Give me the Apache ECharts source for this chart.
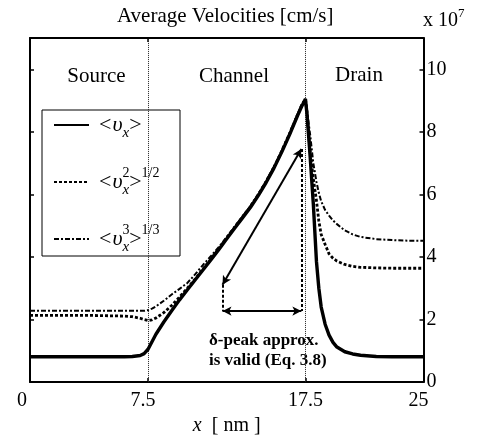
<!DOCTYPE html>
<html><head><meta charset="utf-8">
<script src="https://cdn.jsdelivr.net/npm/echarts@6/dist/echarts.min.js"></script>
<style>html,body{margin:0;padding:0;background:#fff}#c{width:478px;height:441px}</style>
</head><body><div id="c"></div>
<script>
// position along device [nm]
const xPos = [0, 1, 2, 3, 4, 5, 6, 6.5, 7, 7.25, 7.5, 7.75, 8, 8.5, 9, 9.5, 10, 10.5, 11, 11.5, 12, 12.5, 13, 13.5, 14, 14.5, 15, 15.5, 16, 16.5, 17, 17.25, 17.5, 17.6, 17.8, 18, 18.2, 18.35, 18.5, 18.75, 19, 19.25, 19.5, 20, 20.5, 21, 22, 23, 24, 25];
// <v_x>  [1e7 cm/s]
const vAvg = [0.81, 0.81, 0.81, 0.81, 0.81, 0.81, 0.81, 0.82, 0.85, 0.91, 1.05, 1.29, 1.53, 1.92, 2.28, 2.63, 2.95, 3.27, 3.59, 3.91, 4.24, 4.58, 4.92, 5.25, 5.58, 5.96, 6.38, 6.84, 7.36, 7.92, 8.52, 8.8, 9.05, 8.55, 7.2, 5.7, 3.85, 3.0, 2.4, 1.85, 1.5, 1.27, 1.12, 0.97, 0.9, 0.86, 0.82, 0.81, 0.81, 0.81];
// <v_x^2>^(1/2)
const vRms2 = [2.13, 2.13, 2.13, 2.13, 2.13, 2.12, 2.11, 2.09, 2.04, 2.0, 1.97, 1.99, 2.05, 2.22, 2.45, 2.72, 3.0, 3.3, 3.62, 3.94, 4.27, 4.61, 4.95, 5.28, 5.61, 5.99, 6.41, 6.87, 7.39, 7.95, 8.55, 8.84, 9.05, 8.6, 7.35, 6.5, 5.8, 5.15, 4.72, 4.4, 4.1, 3.96, 3.87, 3.76, 3.7, 3.67, 3.65, 3.64, 3.64, 3.64];
// <v_x^3>^(1/3)
const vRms3 = [2.28, 2.28, 2.28, 2.28, 2.28, 2.28, 2.28, 2.28, 2.28, 2.28, 2.3, 2.35, 2.42, 2.6, 2.8, 2.98, 3.17, 3.45, 3.75, 4.03, 4.32, 4.64, 4.97, 5.3, 5.63, 6.01, 6.43, 6.89, 7.41, 7.97, 8.57, 8.86, 9.05, 8.7, 7.9, 7.0, 6.4, 6.05, 5.78, 5.5, 5.32, 5.17, 5.05, 4.85, 4.72, 4.64, 4.57, 4.54, 4.52, 4.52];

const xTickValues = [0, 7.5, 17.5, 25];
const yTickValues = [0, 2, 4, 6, 8, 10];
const regionBounds = [7.5, 17.5];
const regionNames = ['Source', 'Channel', 'Drain'];
const seriesNames = ['vAvg', 'vRms2', 'vRms3'];
// annotation "delta-peak approx. is valid"
const arrowDiag = [[12.23, 3.11], [17.24, 7.45]];
const arrowSpan = [[12.23, 2.27], [17.24, 2.27]];
const dropLeft = [[12.23, 3.11], [12.23, 2.27]];
const dropRight = [[17.24, 7.45], [17.24, 2.27]];
const annoText = ['δ-peak approx.', 'is valid (Eq. 3.8)'];

const FF = '"Liberation Serif", "DejaVu Serif", serif';
const pair = (arr) => xPos.map((x, i) => [x, arr[i]]);

const chart = echarts.init(document.getElementById('c'), null, {renderer: 'canvas'});

const legendLabels = {
  vAvg: '{b0|<}{u|υ}{sub|x}{b|>}',
  vRms2: '{b0|<}{u|υ}{sup|2}{subn|x}{b|>}{sup|1/2}',
  vRms3: '{b0|<}{u|υ}{sup|3}{subn|x}{b|>}{sup|1/3}'
};

const xLabelRich = {
  l: {fontSize: 20, fontFamily: FF, color: '#000', padding: [0, 16, 0, 0]},
  m: {fontSize: 20, fontFamily: FF, color: '#000', padding: [0, 10, 0, 0]},
  c: {fontSize: 20, fontFamily: FF, color: '#000'}
};

const axisCommon = {
  axisLine: {show: true, onZero: false, lineStyle: {color: '#000', width: 2}},
  splitLine: {show: false}
};

chart.setOption({
  animation: false,
  backgroundColor: '#fff',
  title: {
    text: 'Average Velocities [cm/s]',
    left: 112, top: 1,
    textStyle: {fontFamily: FF, fontSize: 21, fontWeight: 'normal', color: '#000'}
  },
  grid: {left: 30, top: 38, right: 54.5, bottom: 52, containLabel: false},
  legend: {
    data: seriesNames,
    orient: 'vertical',
    left: 48, top: 109,
    itemWidth: 35, itemHeight: 14, itemGap: 25,
    formatter: (n) => legendLabels[n],
    itemStyle: {opacity: 0},
    textStyle: {
      color: '#000', fontFamily: FF,
      rich: {
        b0: {fontSize: 22, fontFamily: FF, color: '#000', lineHeight: 32, padding: [0, 1, 0, 5]},
        b: {fontSize: 22, fontFamily: FF, color: '#000', lineHeight: 32},
        u: {fontSize: 22, fontFamily: FF, fontStyle: 'italic', color: '#000', lineHeight: 32},
        sup: {fontSize: 14, fontFamily: FF, color: '#000', lineHeight: 14, verticalAlign: 'top'},
        sub: {fontSize: 15, fontFamily: FF, fontStyle: 'italic', color: '#000', lineHeight: 14, verticalAlign: 'bottom'},
        subn: {fontSize: 15, fontFamily: FF, fontStyle: 'italic', color: '#000', lineHeight: 14, verticalAlign: 'bottom', padding: [0, 0, 0, -7]}
      }
    }
  },
  xAxis: [Object.assign({}, axisCommon, {
    type: 'value', min: 0, max: 25, position: 'bottom',
    name: '{i|x}{n|  [ nm ]}', nameLocation: 'middle', nameGap: 24,
    nameTextStyle: {rich: {
      i: {fontSize: 20, fontFamily: FF, fontStyle: 'italic', color: '#000'},
      n: {fontSize: 20, fontFamily: FF, color: '#000'}
    }},
    axisTick: {show: true, inside: true, length: 4, customValues: xTickValues, lineStyle: {color: '#000', width: 1.5}},
    axisLabel: {
      show: true, margin: 9, customValues: xTickValues,
      formatter: (v) => v === 0 ? '{l|0}' : (v === 17.5 ? '{c|17.5}' : '{m|' + v + '}'),
      rich: xLabelRich
    }
  }), Object.assign({}, axisCommon, {
    type: 'value', min: 0, max: 25, position: 'top',
    axisTick: {show: true, inside: true, length: 4, customValues: regionBounds, lineStyle: {color: '#000', width: 1.5}},
    axisLabel: {show: false}
  })],
  yAxis: [Object.assign({}, axisCommon, {
    type: 'value', min: 0, max: 11, position: 'right',
    axisTick: {show: true, inside: true, length: 4, customValues: yTickValues, lineStyle: {color: '#000', width: 1.5}},
    axisLabel: {show: true, margin: 3, customValues: yTickValues, fontSize: 20, fontFamily: FF, color: '#000'}
  }), Object.assign({}, axisCommon, {
    type: 'value', min: 0, max: 11, position: 'left',
    axisTick: {show: true, inside: true, length: 4, customValues: yTickValues, lineStyle: {color: '#000', width: 1.5}},
    axisLabel: {show: false}
  })],
  series: [{
    name: 'vAvg', type: 'line', symbol: 'none', xAxisIndex: 0, yAxisIndex: 0,
    data: pair(vAvg), z: 5,
    lineStyle: {color: '#000', width: 3.4, type: 'solid'},
    itemStyle: {color: '#000'},
    markLine: {
      silent: true, symbol: 'none', label: {show: false},
      lineStyle: {type: 'dotted', color: '#222', width: 1},
      data: regionBounds.map((x) => ({xAxis: x}))
    }
  }, {
    name: 'vRms2', type: 'line', symbol: 'none', xAxisIndex: 0, yAxisIndex: 0,
    data: pair(vRms2), z: 4,
    lineStyle: {color: '#000', width: 2.8, type: [3, 2]},
    itemStyle: {color: '#000'}
  }, {
    name: 'vRms3', type: 'line', symbol: 'none', xAxisIndex: 0, yAxisIndex: 0,
    data: pair(vRms3), z: 3,
    lineStyle: {color: '#000', width: 2, type: [5, 2, 2, 2]},
    itemStyle: {color: '#000'}
  }, {
    name: 'annotation', type: 'line', data: [], xAxisIndex: 0, yAxisIndex: 0,
    markLine: {
      silent: true, label: {show: false},
      symbol: ['arrow', 'arrow'], symbolSize: [7, 9],
      lineStyle: {color: '#000', width: 2, type: 'solid'},
      data: [
        [{coord: arrowDiag[0]}, {coord: arrowDiag[1]}],
        [{coord: arrowSpan[0]}, {coord: arrowSpan[1]}],
        [{coord: dropLeft[0], symbol: 'none'}, {coord: dropLeft[1], symbol: 'none', lineStyle: {type: [3, 2]}}],
        [{coord: dropRight[0], symbol: 'none'}, {coord: dropRight[1], symbol: 'none', lineStyle: {type: [3, 2]}}]
      ]
    }
  }],
  graphic: [
    {type: 'rect', shape: {x: 42, y: 110, width: 138, height: 146}, style: {fill: 'rgba(255,255,255,0)', stroke: '#000', lineWidth: 1}, z: 1},
    {type: 'text', x: 96.5, y: 76, style: {text: regionNames[0], font: '21px ' + FF, fill: '#000', align: 'center', verticalAlign: 'middle'}},
    {type: 'text', x: 234, y: 76, style: {text: regionNames[1], font: '21px ' + FF, fill: '#000', align: 'center', verticalAlign: 'middle'}},
    {type: 'text', x: 359, y: 75, style: {text: regionNames[2], font: '21px ' + FF, fill: '#000', align: 'center', verticalAlign: 'middle'}},
    {type: 'text', x: 209, y: 351, style: {text: annoText.join('\n'), font: 'bold 17px ' + FF, fill: '#000', align: 'left', verticalAlign: 'middle', lineHeight: 20}},
    {type: 'text', x: 423, y: 19, style: {
      text: '{a|x 10}{b|7}', align: 'left', verticalAlign: 'middle',
      rich: {
        a: {font: '20px ' + FF, fill: '#000', lineHeight: 24, verticalAlign: 'bottom'},
        b: {font: '13px ' + FF, fill: '#000', lineHeight: 24, verticalAlign: 'top'}
      }
    }}
  ]
});
</script>
</body></html>
